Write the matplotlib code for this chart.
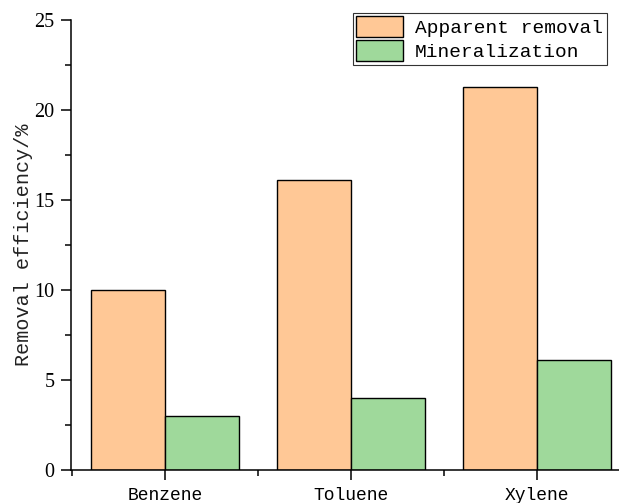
import numpy as np
import matplotlib.pyplot as plt
from matplotlib.ticker import MultipleLocator, FixedLocator

# removal data for the three aromatics
compounds = ['Benzene', 'Toluene', 'Xylene']
apparent_removal = [10.0, 16.1, 21.3]
mineralization = [3.0, 4.0, 6.1]

plt.rcParams['font.family'] = ['Liberation Mono', 'DejaVu Sans Mono']

fig = plt.figure(figsize=(6.19, 5.03), dpi=100)
ax = fig.add_axes([0.1147, 0.0656, 0.903, 0.8946])

x = np.arange(len(compounds))
w = 0.4
ax.bar(x - w / 2, apparent_removal, w, color='#FFC896', edgecolor='black',
       linewidth=1.0, label='Apparent removal')
ax.bar(x + w / 2, mineralization, w, color='#9FD99B', edgecolor='black',
       linewidth=1.0, label='Mineralization')

ax.set_xlim(-0.505, 2.5)
ax.set_ylim(0, 25)
ax.set_xticks(x)
ax.set_xticklabels(compounds, fontsize=13)
ax.xaxis.set_minor_locator(FixedLocator([-0.5, 0.5, 1.5]))
ax.yaxis.set_major_locator(MultipleLocator(5))
ax.yaxis.set_minor_locator(MultipleLocator(2.5))
for lbl in ax.get_yticklabels():
    lbl.set_fontfamily('Liberation Serif')
    lbl.set_fontsize(14.5)

ax.tick_params(which='major', direction='out', length=7, width=1.1, pad=5)
ax.tick_params(which='minor', direction='out', length=4, width=1.1)
ax.tick_params(axis='x', which='major', pad=5)

ax.spines['top'].set_visible(False)
ax.spines['right'].set_visible(False)
ax.spines['left'].set_linewidth(1.1)
ax.spines['bottom'].set_linewidth(1.1)

ax.set_ylabel('Removal efficiency/%', fontsize=14.5, labelpad=1, color='#222222')

leg = ax.legend(loc='upper right', bbox_to_anchor=(0.98, 0.975),
                bbox_transform=fig.transFigure, fontsize=14,
                fancybox=False, framealpha=1, edgecolor='#333333',
                handlelength=2.4, handleheight=1.25, labelspacing=0.15,
                borderpad=0.2, handletextpad=0.6, borderaxespad=0)
leg.get_frame().set_linewidth(0.8)

fig.savefig('out.png', dpi=100)
